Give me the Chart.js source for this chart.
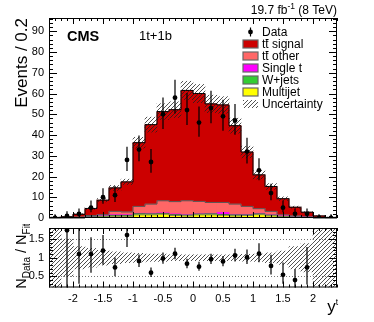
<!DOCTYPE html>
<html>
<head>
<meta charset="utf-8">
<script src="https://cdn.jsdelivr.net/npm/chart.js@4.4.1/dist/chart.umd.min.js"></script>
<style>
html, body { margin: 0; padding: 0; background: #fff; }
#wrap { position: relative; width: 374px; height: 322px; overflow: hidden; }
canvas { position: absolute; left: 0; }
</style>
</head>
<body>
<div id="wrap">
  <canvas id="top" width="374" height="224" style="top:0px"></canvas>
  <canvas id="ratio" width="374" height="98" style="top:224px"></canvas>
</div>
<script>
// bins of y^t, width 0.2
var binCenters = [-2.3,-2.1,-1.9,-1.7,-1.5,-1.3,-1.1,-0.9,-0.7,-0.5,-0.3,-0.1,0.1,0.3,0.5,0.7,0.9,1.1,1.3,1.5,1.7,1.9,2.1,2.3];

var dataCounts = [0,1,2,5,10,11,28,33,27,50,58,52,46,53,49,47,32,23,12,5,2,2,0,0];
var dataErrLo  = [0,0.8,1.3,2.2,3.1,3.3,5.3,5.7,5.2,7.1,7.6,7.2,6.8,7.3,7.0,6.9,5.7,4.8,3.5,2.2,1.3,1.3,0,0];
var dataErrHi  = [1.8,2.3,2.6,3.4,4.3,4.4,6.3,6.8,6.3,8.1,8.6,8.2,7.8,8.3,8.0,7.9,6.7,5.8,4.5,3.4,2.6,2.6,1.8,1.8];

var multijet  = [0,0,0,0.3,0.5,0.8,0.8,1.5,1.5,1.8,1.2,1.0,1.5,1.5,1.3,1.0,1.2,1.6,1.0,0.5,0.3,0.2,0,0];
var wJets     = [0,0,0,0.3,0.4,0.5,0.5,0.6,0.5,0.4,0.5,0.4,0.4,0.5,0.4,0.5,0.3,0.4,0.4,0.3,0.2,0.1,0,0];
var singleTop = [0,0,0.1,0.2,0.3,0.3,0.3,0.2,0.3,0.3,0.3,0.3,0.2,0.2,1.0,0.3,0.3,0.3,0.2,0.2,0.1,0.1,0,0];
var ttOther   = [0.1,0.2,0.4,0.4,0.4,1.6,1.3,3.3,4.4,5.8,5.9,6.6,5.9,5.3,4.8,4.9,3.8,2.2,1.6,0.5,0.4,0.2,0.2,0.1];
var ttSignal  = [0.2,0.4,1.3,3.4,7.0,11.3,14.5,30.7,38.3,43.0,44.3,53.2,52.0,47.5,47.0,37.8,26.2,16.3,12.0,7.8,4.2,2.2,0.8,0.2];
var mcUnc     = [0.1,0.2,0.3,0.5,0.8,1.2,1.3,2.6,3.6,3.8,3.8,4.4,4.4,4.2,4.0,3.6,2.8,2.0,1.4,0.9,0.5,0.3,0.1,0.1];

var ratioVals  = [null,1.74,1.10,1.10,1.19,0.74,1.61,0.91,0.60,0.98,1.11,0.84,0.76,0.96,0.90,1.06,1.01,1.11,0.78,0.54,0.40,0.74,null,null];
var ratioErrLo = [0,1.74,0.80,0.50,0.38,0.24,0.32,0.16,0.12,0.14,0.15,0.12,0.11,0.13,0.13,0.16,0.18,0.23,0.23,0.24,0.25,0.46,0,0];
var ratioErrHi = [0,4.00,1.50,0.45,0.42,0.27,0.36,0.18,0.14,0.16,0.16,0.13,0.13,0.15,0.15,0.18,0.21,0.28,0.30,0.33,0.30,0.55,0,0];
var ratioBand  = [0.8,0.5,0.3,0.25,0.2,0.16,0.13,0.12,0.1,0.1,0.08,0.08,0.08,0.08,0.08,0.08,0.09,0.1,0.13,0.18,0.3,0.38,0.75,0.8];

var xTicks = [-2,-1.5,-1,-0.5,0,0.5,1,1.5,2];
var yTicksTop = [0,10,20,30,40,50,60,70,80,90];
var yTicksRatio = [0.5,1,1.5];

var FONT = '"Liberation Sans", Arial, Helvetica, sans-serif';
var colSignal = '#cc0000', colOther = '#ff6666', colSingle = '#ff00ff', colW = '#33cc33', colQCD = '#ffff00';

function makeHatch(ctx) {
    var c = document.createElement('canvas');
    c.width = 4; c.height = 4;
    var g = c.getContext('2d');
    g.strokeStyle = 'rgba(30,30,30,0.85)';
    g.lineWidth = 0.9;
    g.beginPath();
    g.moveTo(0, 4); g.lineTo(4, 0);
    g.moveTo(-1, 1); g.lineTo(1, -1);
    g.moveTo(3, 5); g.lineTo(5, 3);
    g.stroke();
    return ctx.createPattern(c, 'repeat');
}

function pts(arr) {
    var out = [];
    for (var i = 0; i < arr.length; i++) out.push({x: binCenters[i], y: arr[i]});
    return out;
}

function noPad(s) {
    s.paddingTop = 0; s.paddingBottom = 0; s.paddingLeft = 0; s.paddingRight = 0;
}

// draws an inward tick frame like ROOT
function drawFrame(chart, o) {
    var ctx = chart.ctx, a = chart.chartArea, xs = chart.scales.x, ys = chart.scales.y;
    ctx.save();
    ctx.strokeStyle = '#000';
    ctx.lineWidth = 1;
    ctx.beginPath();
    for (var k = 0; k <= 48; k++) {
        var v = -2.4 + k * 0.1;
        var px = Math.round(xs.getPixelForValue(v)) + 0.5;
        var major = Math.abs(v * 2 - Math.round(v * 2)) < 1e-6;
        var len = major ? o.xMajor : o.xMinor;
        ctx.moveTo(px, a.bottom); ctx.lineTo(px, a.bottom - len);
        ctx.moveTo(px, a.top); ctx.lineTo(px, a.top + len);
    }
    for (var v2 = o.yFrom; v2 <= o.yTo + 1e-6; v2 += o.yMinor) {
        var py = Math.round(ys.getPixelForValue(v2)) + 0.5;
        if (py < a.top || py > a.bottom) continue;
        var maj = Math.abs(v2 / o.yMajor - Math.round(v2 / o.yMajor)) < 1e-6;
        var l2 = maj ? o.yMajorLen : o.yMinorLen;
        ctx.moveTo(a.left, py); ctx.lineTo(a.left + l2, py);
        ctx.moveTo(a.right, py); ctx.lineTo(a.right - l2, py);
    }
    ctx.stroke();
    ctx.strokeRect(a.left + 0.5, a.top + 0.5, a.right - a.left - 1, a.bottom - a.top - 1);
    ctx.restore();
}

function drawErrors(chart, vals, lo, hi) {
    var ctx = chart.ctx, a = chart.chartArea, xs = chart.scales.x, ys = chart.scales.y;
    ctx.save();
    ctx.beginPath();
    ctx.rect(a.left, a.top, a.right - a.left, a.bottom - a.top);
    ctx.clip();
    ctx.strokeStyle = '#000';
    ctx.lineWidth = 1.2;
    ctx.beginPath();
    for (var i = 0; i < vals.length; i++) {
        if (vals[i] === null) continue;
        var px = xs.getPixelForValue(binCenters[i]);
        ctx.moveTo(px, ys.getPixelForValue(vals[i] - lo[i]));
        ctx.lineTo(px, ys.getPixelForValue(vals[i] + hi[i]));
    }
    ctx.stroke();
    ctx.restore();
}

// step outline on top of a stacked component
function drawOutline(chart, idx, color, w) {
    var meta = chart.getDatasetMeta(idx);
    var ctx = chart.ctx;
    ctx.save();
    ctx.strokeStyle = color;
    ctx.lineWidth = w;
    ctx.beginPath();
    for (var i = 0; i < meta.data.length; i++) {
        var b = meta.data[i];
        var l = b.x - b.width / 2, r = b.x + b.width / 2;
        if (i === 0) ctx.moveTo(l, b.y); else ctx.lineTo(l, b.y);
        ctx.lineTo(r, b.y);
    }
    ctx.stroke();
    ctx.restore();
}

function ttbar(ctx, text, x, y) {
    ctx.fillText(text, x, y);
    var tw = ctx.measureText('t').width;
    var fs = parseFloat(ctx.font);
    ctx.save();
    ctx.lineWidth = 1;
    ctx.strokeStyle = '#000';
    ctx.beginPath();
    ctx.moveTo(x + tw + 0.3, Math.round(y - fs * 0.78) + 0.5);
    ctx.lineTo(x + 2 * tw - 0.1, Math.round(y - fs * 0.78) + 0.5);
    ctx.stroke();
    ctx.restore();
}

var topCtx = document.getElementById('top').getContext('2d');
var ratioCtx = document.getElementById('ratio').getContext('2d');
var hatchTop = makeHatch(topCtx);
var hatchRatio = makeHatch(ratioCtx);

var stackTotal = [];
for (var i = 0; i < binCenters.length; i++) {
    stackTotal.push(multijet[i] + wJets[i] + singleTop[i] + ttOther[i] + ttSignal[i]);
}
var uncBand = [];
for (var j = 0; j < binCenters.length; j++) {
    uncBand.push({x: binCenters[j], y: [stackTotal[j] - mcUnc[j], stackTotal[j] + mcUnc[j]]});
}
var ratioBandData = [];
for (var k = 0; k < binCenters.length; k++) {
    ratioBandData.push({x: binCenters[k], y: [1 - ratioBand[k], 1 + ratioBand[k]]});
}

var barBase = {type: 'bar', stack: 'mc', grouped: false, xAxisID: 'x', yAxisID: 'y',
               barPercentage: 1, categoryPercentage: 1, borderWidth: 0};

var topPlugin = {
    id: 'topDecor',
    afterDatasetDraw: function(chart, args) {
        if (args.index === 6) drawOutline(chart, 6, '#000', 1);
        if (args.index === 5) drawOutline(chart, 5, '#555', 1);
        if (args.index === 2) drawOutline(chart, 2, '#666', 0.8);
        if (args.index === 3) drawOutline(chart, 3, '#555', 0.8);
    },
    afterDatasetsDraw: function(chart) {
        var xs = chart.scales.x2, ys = chart.scales.y2;
        var ctx = chart.ctx;
        ctx.save();
        ctx.strokeStyle = '#000';
        ctx.lineWidth = 1.2;
        ctx.beginPath();
        for (var i = 0; i < dataCounts.length; i++) {
            var px = xs.getPixelForValue(binCenters[i]);
            ctx.moveTo(px, ys.getPixelForValue(dataCounts[i] - dataErrLo[i]));
            ctx.lineTo(px, ys.getPixelForValue(dataCounts[i] + dataErrHi[i]));
        }
        ctx.stroke();
        ctx.restore();
    },
    afterDraw: function(chart) {
        drawFrame(chart, {xMajor: 6, xMinor: 3, yFrom: 0, yTo: 96, yMinor: 2, yMajor: 10, yMajorLen: 8, yMinorLen: 4});
        var ctx = chart.ctx;
        ctx.save();
        ctx.fillStyle = '#000';
        // axis title
        ctx.save();
        ctx.translate(27, 18);
        ctx.rotate(-Math.PI / 2);
        ctx.textAlign = 'right';
        ctx.font = '17px ' + FONT;
        ctx.fillText('Events / 0.2', 0, 0);
        ctx.restore();
        // lumi label
        ctx.font = '12px ' + FONT;
        ctx.textAlign = 'left';
        var s1 = '19.7 fb', s2 = '-1', s3 = ' (8 TeV)';
        var w1 = ctx.measureText(s1).width, w3 = ctx.measureText(s3).width;
        ctx.font = '8.5px ' + FONT;
        var w2 = ctx.measureText(s2).width;
        var x0 = 337 - w1 - w2 - w3;
        ctx.font = '12px ' + FONT;
        ctx.fillText(s1, x0, 14);
        ctx.font = '8.5px ' + FONT;
        ctx.fillText(s2, x0 + w1, 9);
        ctx.font = '12px ' + FONT;
        ctx.fillText(s3, x0 + w1 + w2, 14);
        // CMS + channel
        ctx.font = 'bold 14.5px ' + FONT;
        ctx.fillText('CMS', 67, 41);
        ctx.font = '13px ' + FONT;
        ctx.fillText('1t+1b', 139, 40);
        // legend
        var rows = [32, 44, 56, 68, 80, 92, 104];
        var fills = [null, colSignal, colOther, colSingle, colW, colQCD, hatchTop];
        var names = ['Data', 'tt signal', 'tt other', 'Single t', 'W+jets', 'Multijet', 'Uncertainty'];
        ctx.font = '12px ' + FONT;
        for (var r = 0; r < rows.length; r++) {
            var yy = rows[r];
            if (r === 0) {
                ctx.beginPath();
                ctx.arc(250.5, yy, 2.4, 0, Math.PI * 2);
                ctx.fill();
                ctx.beginPath();
                ctx.lineWidth = 1.2;
                ctx.strokeStyle = '#000';
                ctx.moveTo(250.5, yy - 4.5); ctx.lineTo(250.5, yy + 4.5);
                ctx.stroke();
            } else {
                ctx.fillStyle = fills[r];
                ctx.fillRect(243, yy - 4, 15, 8);
                if (r < 6) {
                    ctx.strokeStyle = '#666';
                    ctx.lineWidth = 1.2;
                    ctx.strokeRect(243, yy - 4, 15, 8);
                }
                ctx.fillStyle = '#000';
            }
            if (r === 1 || r === 2) ttbar(ctx, names[r], 262, yy + 4.3);
            else ctx.fillText(names[r], 262, yy + 4.3);
        }
        ctx.restore();
    }
};

var topChart = new Chart(topCtx, {
    type: 'bar',
    data: {
        datasets: [
            {type: 'scatter', label: 'Data', data: pts(dataCounts), xAxisID: 'x2', yAxisID: 'y2',
             pointRadius: 2.4, pointBackgroundColor: '#000', pointBorderWidth: 0},
            {type: 'bar', label: 'Uncertainty', data: uncBand, xAxisID: 'x2', yAxisID: 'y2', grouped: false,
             backgroundColor: hatchTop, barPercentage: 1, categoryPercentage: 1, borderWidth: 0},
            Object.assign({label: 'Multijet', data: pts(multijet), backgroundColor: colQCD}, barBase),
            Object.assign({label: 'W+jets', data: pts(wJets), backgroundColor: colW}, barBase),
            Object.assign({label: 'Single t', data: pts(singleTop), backgroundColor: colSingle}, barBase),
            Object.assign({label: 'tt other', data: pts(ttOther), backgroundColor: colOther}, barBase),
            Object.assign({label: 'tt signal', data: pts(ttSignal), backgroundColor: colSignal}, barBase)
        ]
    },
    options: {
        responsive: false,
        animation: false,
        layout: {padding: {left: 0, right: 37, top: 18, bottom: 6}},
        plugins: {legend: {display: false}, tooltip: {enabled: false}},
        scales: {
            x: {type: 'linear', display: false, offset: false, min: -2.4, max: 2.4, stacked: true},
            x2: {type: 'linear', display: false, offset: false, min: -2.4, max: 2.4},
            y2: {display: false, min: 0, max: 96.4},
            y: {
                min: 0, max: 96.4, stacked: true,
                grid: {display: false, drawTicks: false},
                border: {display: false},
                afterFit: function(s) { s.width = 49; noPad(s); },
                afterBuildTicks: function(s) { s.ticks = yTicksTop.map(function(v) { return {value: v}; }); },
                ticks: {padding: 5, color: '#000', font: {family: FONT, size: 11},
                        callback: function(v) { return String(v); }}
            }
        }
    },
    plugins: [topPlugin]
});

var ratioPlugin = {
    id: 'ratioDecor',
    beforeDatasetsDraw: function(chart) {
        var ctx = chart.ctx, a = chart.chartArea, ys = chart.scales.y;
        ctx.save();
        ctx.strokeStyle = '#777';
        ctx.lineWidth = 1;
        ctx.setLineDash([1, 2]);
        ctx.beginPath();
        [0.5, 1.5].forEach(function(v) {
            var py = Math.round(ys.getPixelForValue(v)) + 0.5;
            ctx.moveTo(a.left, py); ctx.lineTo(a.right, py);
        });
        ctx.stroke();
        ctx.restore();
    },
    afterDatasetsDraw: function(chart) {
        drawErrors(chart, ratioVals, ratioErrLo, ratioErrHi);
    },
    afterDraw: function(chart) {
        drawFrame(chart, {xMajor: 6, xMinor: 3, yFrom: 0.2, yTo: 1.8, yMinor: 0.1, yMajor: 0.5, yMajorLen: 8, yMinorLen: 4});
        var ctx = chart.ctx;
        ctx.save();
        ctx.fillStyle = '#000';
        // y title N_Data / N_Fit
        var big = '14.5px ' + FONT, small = '10px ' + FONT;
        var parts = [['N', big, 0], ['Data', small, 3.5], [' / ', big, 0], ['N', big, 0], ['Fit', small, 3.5]];
        var total = 0, widths = [];
        for (var p = 0; p < parts.length; p++) {
            ctx.font = parts[p][1];
            widths.push(ctx.measureText(parts[p][0]).width);
            total += widths[p];
        }
        ctx.save();
        ctx.translate(26, 256 - 224 + total / 2);
        ctx.rotate(-Math.PI / 2);
        ctx.textAlign = 'left';
        var cx = 0;
        for (var q = 0; q < parts.length; q++) {
            ctx.font = parts[q][1];
            ctx.fillText(parts[q][0], cx, parts[q][2]);
            cx += widths[q];
        }
        ctx.restore();
        // x title y^t
        ctx.textAlign = 'left';
        ctx.font = '8.5px ' + FONT;
        var wt = ctx.measureText('t').width;
        ctx.font = '17px ' + FONT;
        var wy = ctx.measureText('y').width;
        ctx.fillText('y', 338 - wt - wy, 312 - 224);
        ctx.font = '8.5px ' + FONT;
        ctx.fillText('t', 338 - wt, 305 - 224);
        ctx.restore();
    }
};

var ratioChart = new Chart(ratioCtx, {
    type: 'bar',
    data: {
        datasets: [
            {type: 'scatter', label: 'ratio', data: pts(ratioVals),
             pointRadius: 2.4, pointBackgroundColor: '#000', pointBorderWidth: 0},
            {type: 'bar', label: 'band', data: ratioBandData, backgroundColor: hatchRatio, grouped: false,
             barPercentage: 1, categoryPercentage: 1, borderWidth: 0}
        ]
    },
    options: {
        responsive: false,
        animation: false,
        layout: {padding: {left: 0, right: 37, top: 2, bottom: 0}},
        plugins: {legend: {display: false}, tooltip: {enabled: false}},
        scales: {
            x: {
                type: 'linear', min: -2.4, max: 2.4, offset: false,
                grid: {display: false, drawTicks: false},
                border: {display: false},
                afterFit: function(s) { s.height = 34.5; noPad(s); },
                afterBuildTicks: function(s) { s.ticks = xTicks.map(function(v) { return {value: v}; }); },
                ticks: {padding: 5, maxRotation: 0, autoSkip: false, color: '#000', font: {family: FONT, size: 11},
                        callback: function(v) { return String(v); }}
            },
            y: {
                min: 0.2, max: 1.8,
                grid: {display: false, drawTicks: false},
                border: {display: false},
                afterFit: function(s) { s.width = 49; noPad(s); },
                afterBuildTicks: function(s) { s.ticks = yTicksRatio.map(function(v) { return {value: v}; }); },
                ticks: {padding: 5, color: '#000', font: {family: FONT, size: 11},
                        callback: function(v) { return String(v); }}
            }
        }
    },
    plugins: [ratioPlugin]
});
</script>
</body>
</html>
